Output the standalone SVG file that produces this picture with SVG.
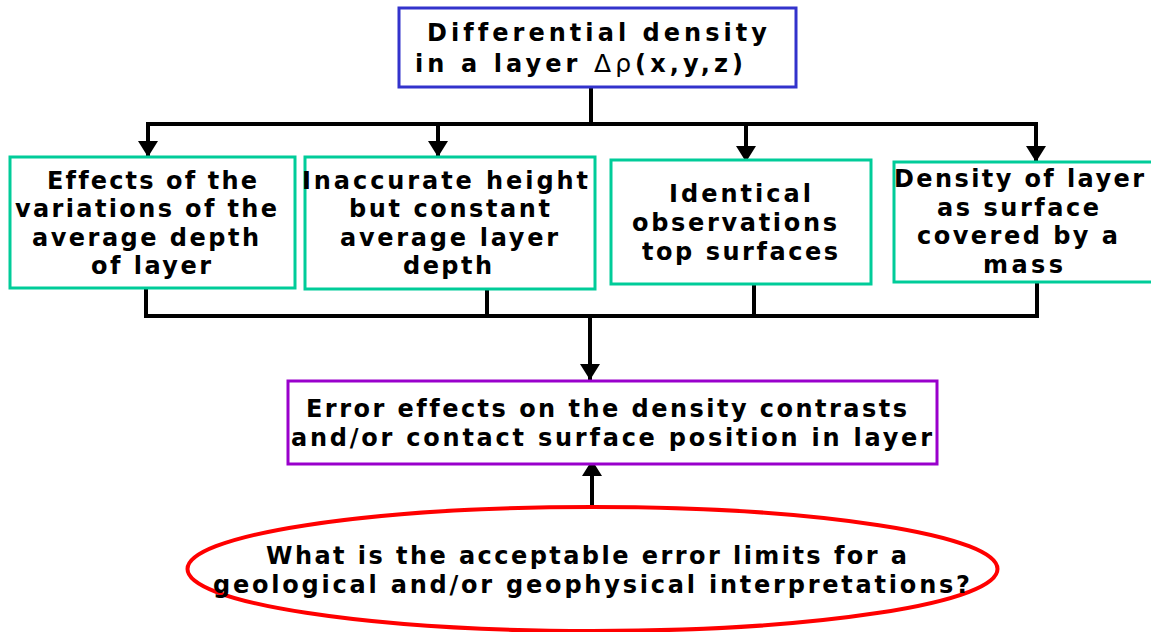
<svg xmlns="http://www.w3.org/2000/svg" width="1151" height="632" viewBox="0 0 1151 632">
  <style>
    .t { font-family: "DejaVu Sans", Verdana, "Liberation Sans", sans-serif; font-size: 24px; font-weight: bold; fill: #000; font-variant-ligatures: none; }
    .sym { font-weight: normal; font-size: 25px; }
    .box { fill: #fff; stroke-width: 3; }
    .teal { stroke: #00cc99; }
    .conn { fill: none; stroke: #000; stroke-width: 4; }
  </style>
  <defs>
    <marker id="arrow" markerUnits="userSpaceOnUse" markerWidth="17" markerHeight="20" refX="16" refY="10" orient="auto">
      <path d="M0,0 L16,10 L0,20 z" fill="#000"/>
    </marker>
  </defs>
  <rect width="1151" height="632" fill="#fff"/>

  <g id="connectors">
    <path class="conn" d="M591,87 V124"/>
    <path class="conn" d="M146,124 H1038"/>
    <path class="conn" d="M148,122 V157" marker-end="url(#arrow)"/>
    <path class="conn" d="M438,122 V157" marker-end="url(#arrow)"/>
    <path class="conn" d="M746,122 V162" marker-end="url(#arrow)"/>
    <path class="conn" d="M1036,122 V162" marker-end="url(#arrow)"/>
    <path class="conn" d="M146,288 V316"/>
    <path class="conn" d="M487,289 V316"/>
    <path class="conn" d="M754,284 V316"/>
    <path class="conn" d="M1037,282 V316"/>
    <path class="conn" d="M144,316 H1039"/>
    <path class="conn" d="M590,314 V380" marker-end="url(#arrow)"/>
    <path class="conn" d="M592,508 V460" marker-end="url(#arrow)"/>
  </g>

  <g id="node-top">
    <rect class="box" x="399" y="8" width="397" height="79" stroke="#3333cc"/>
    <text class="t" x="427" y="41" textLength="340" lengthAdjust="spacing">Differential density</text>
    <text class="t" x="415" y="72" textLength="328" lengthAdjust="spacing">in a layer <tspan class="sym">Δρ</tspan>(x,y,z)</text>
  </g>

  <g id="node-effects">
    <rect class="box teal" x="10" y="157" width="285" height="131"/>
    <text class="t" x="47" y="189" textLength="210" lengthAdjust="spacing">Effects of the</text>
    <text class="t" x="15" y="217" textLength="262" lengthAdjust="spacing">variations of the</text>
    <text class="t" x="32" y="246" textLength="227" lengthAdjust="spacing">average depth</text>
    <text class="t" x="91" y="274" textLength="120" lengthAdjust="spacing">of layer</text>
  </g>

  <g id="node-inaccurate">
    <rect class="box teal" x="305" y="157" width="290" height="132"/>
    <text class="t" x="302" y="189" textLength="286" lengthAdjust="spacing">Inaccurate height</text>
    <text class="t" x="349" y="217" textLength="201" lengthAdjust="spacing">but constant</text>
    <text class="t" x="340" y="246" textLength="218" lengthAdjust="spacing">average layer</text>
    <text class="t" x="403" y="274" textLength="89" lengthAdjust="spacing">depth</text>
  </g>

  <g id="node-identical">
    <rect class="box teal" x="611" y="160" width="260" height="124"/>
    <text class="t" x="669" y="202" textLength="142" lengthAdjust="spacing">Identical</text>
    <text class="t" x="632" y="231" textLength="205" lengthAdjust="spacing">observations</text>
    <text class="t" x="642" y="260" textLength="196" lengthAdjust="spacing">top surfaces</text>
  </g>

  <g id="node-density">
    <rect class="box teal" x="894" y="162" width="270" height="120"/>
    <text class="t" x="894" y="187" textLength="250" lengthAdjust="spacing">Density of layer</text>
    <text class="t" x="937" y="216" textLength="162" lengthAdjust="spacing">as surface</text>
    <text class="t" x="917" y="244" textLength="201" lengthAdjust="spacing">covered by a</text>
    <text class="t" x="983" y="273" textLength="80" lengthAdjust="spacing">mass</text>
  </g>

  <g id="node-error">
    <rect class="box" x="288" y="381" width="649" height="83" stroke="#9900cc"/>
    <text class="t" x="306" y="417" textLength="601" lengthAdjust="spacing">Error effects on the density contrasts</text>
    <text class="t" x="291" y="446" textLength="641" lengthAdjust="spacing">and/or contact surface position in layer</text>
  </g>

  <g id="node-question">
    <ellipse cx="592.5" cy="569" rx="405" ry="62" fill="none" stroke="#ff0000" stroke-width="4"/>
    <text class="t" x="266" y="564" textLength="641" lengthAdjust="spacing">What is the acceptable error limits for a</text>
    <text class="t" x="213" y="593" textLength="757" lengthAdjust="spacing">geological and/or geophysical interpretations?</text>
  </g>
</svg>
